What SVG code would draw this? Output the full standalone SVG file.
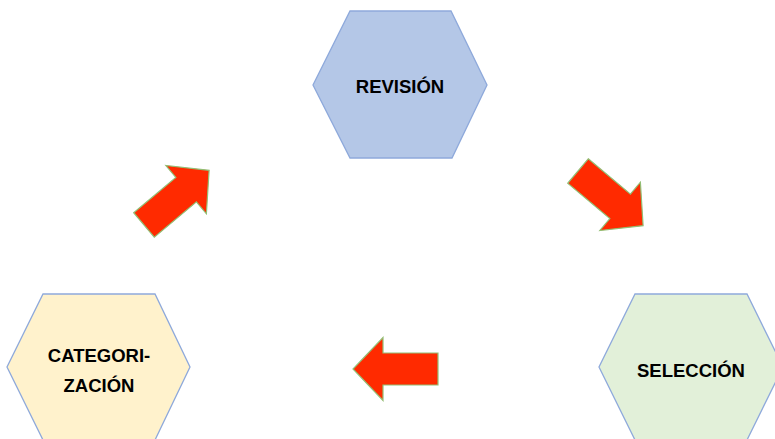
<svg xmlns="http://www.w3.org/2000/svg" width="775" height="439" viewBox="0 0 775 439">
<defs>
<style>
.hex{stroke:#8EA9DB;stroke-width:1.3}
.lbl{font-family:"Liberation Sans",Arial,sans-serif;font-weight:bold;font-size:18.5px;fill:#000;text-anchor:middle}
.arr{fill:#FF2A00;stroke:#93BE74;stroke-width:1.2;stroke-linejoin:miter}
</style>
<path id="arrowShape" d="M0,-16 L55,-16 L55,-31.5 L85,0 L55,31.5 L55,16 L0,16 Z"/>
</defs>
<rect width="775" height="439" fill="#fff"/>
<g id="revision">
<polygon class="hex" fill="#B4C7E7" points="350,11 451,11 487,85 452,158 350,158 313,85"/>
<text class="lbl" x="400" y="93">REVISIÓN</text>
</g>
<g id="seleccion">
<polygon class="hex" fill="#E2F0D9" points="635,294 747,294 783,367 747,440 635,440 599,367"/>
<text class="lbl" x="691" y="377">SELECCIÓN</text>
</g>
<g id="categorizacion">
<polygon class="hex" fill="#FFF2CC" points="43,294 155,294 190,367 155,440 43,440 7,367"/>
<text class="lbl" x="99" y="362">CATEGORI-</text>
<text class="lbl" x="99" y="392">ZACIÓN</text>
</g>
<g id="connectors">
<use href="#arrowShape" class="arr" transform="translate(144,225) rotate(-40)"/>
<use href="#arrowShape" class="arr" transform="translate(578,171) rotate(40)"/>
<use href="#arrowShape" class="arr" transform="translate(438,369) rotate(180)"/>
</g>
</svg>
